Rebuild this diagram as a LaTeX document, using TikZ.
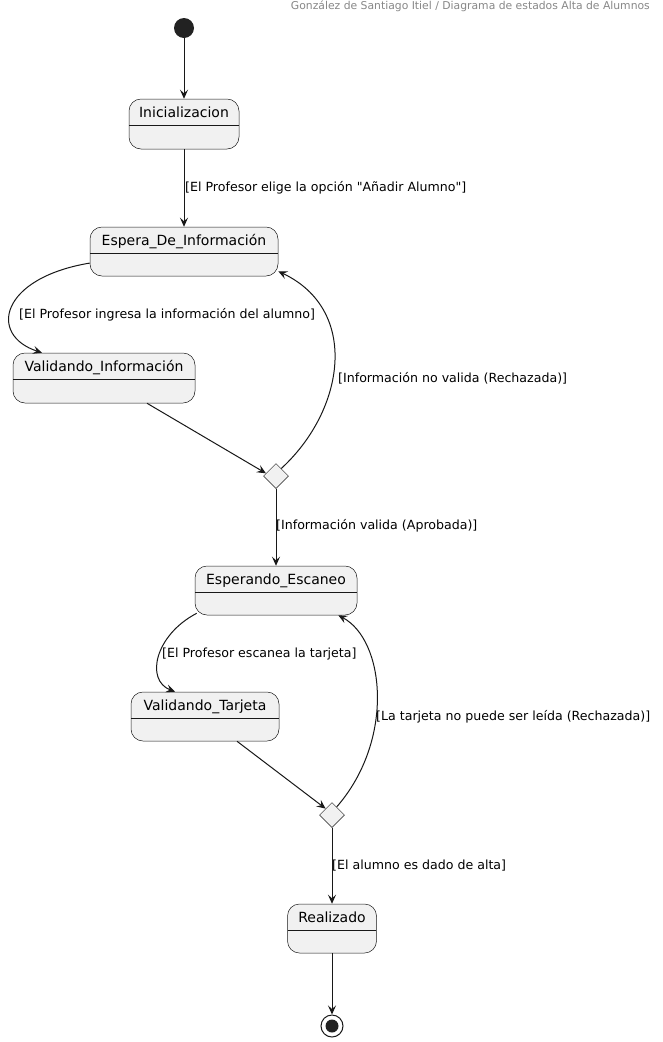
\documentclass[tikz,border=0pt]{standalone}
\usepackage{fontspec}
\setmainfont{DejaVu Sans}[Ligatures=TeXOff]
\usetikzlibrary{arrows.meta,shapes.geometric}
\definecolor{ln}{HTML}{181818}
\definecolor{bg}{HTML}{F1F1F1}
\definecolor{hdr}{HTML}{888888}
\definecolor{dot}{HTML}{222222}

\begin{document}
\begin{tikzpicture}[x=1pt,y=-1pt,
  state/.style={draw=ln, line width=0.5pt, fill=bg, rounded corners=12pt,
    minimum width=#1, minimum height=49pt, inner sep=0pt,
    path picture={\draw[ln, line width=0.5pt]
      ([yshift=-26pt]path picture bounding box.north west) --
      ([yshift=-26pt]path picture bounding box.north east);}},
  sname/.style={anchor=base, inner sep=0pt, yshift=-19pt,
    font=\fontsize{14pt}{16pt}\selectfont, text=black},
  choice/.style={diamond, draw=ln, line width=0.5pt, fill=bg,
    minimum width=25pt, minimum height=25pt, inner sep=0pt},
  tr/.style={draw=ln, line width=1pt,
    -{Stealth[length=9pt,width=8pt,inset=3.5pt]}},
  lbl/.style={anchor=west, inner sep=0pt, font=\fontsize{12.6pt}{15pt}\selectfont},
]
\useasboundingbox (0,0) rectangle (662,1042);
\fill[white] (0,0) rectangle (662,1042);

% header
\node[anchor=base east, text=hdr, inner sep=0pt, font=\fontsize{10.8pt}{12pt}\selectfont]
  (title) at (650,9.5) {González de Santiago Itiel / Diagrama de estados Alta de Alumnos};

% initial and final pseudo-states
\node[circle, fill=dot, minimum size=20pt, inner sep=0pt] (init) at (184,28) {};
\node[circle, draw=ln, line width=1pt, fill=white, minimum size=22pt, inner sep=0pt] (final) at (332,1026) {};
\node[circle, fill=dot, minimum size=13pt, inner sep=0pt] (finaldot) at (final.center) {};

% states
\node[state=110pt, minimum height=50pt, label={[sname]north:Inicializacion}] (ini) at (184,124) {};
\node[state=188pt, label={[sname]north:Espera\_De\_Información}] (esp) at (184,251.5) {};
\node[state=182pt, minimum height=50pt, label={[sname]north:Validando\_Información}] (vali) at (104,378) {};
\node[state=162pt, label={[sname]north:Esperando\_Escaneo}] (escan) at (276,590.5) {};
\node[state=148pt, label={[sname]north:Validando\_Tarjeta}] (vtar) at (205,716.5) {};
\node[state=89pt, label={[sname]north:Realizado}] (real) at (332,928.5) {};

% choice points
\node[choice] (d1) at (276,476) {};
\node[choice] (d2) at (332,815) {};

% transitions
\draw[tr] (init) -- (ini.north);
\draw[tr] (ini.south) -- (esp.north);
\draw[tr] (esp.187) .. controls (0,278) and (-12,335) .. ([xshift=-62pt]vali.north);
\draw[tr] ([xshift=43pt]vali.south) -- (d1.165);
\draw[tr] (d1.55) .. controls (345,410) and (360,310) .. ([yshift=5pt]esp.south east);
\draw[tr] (d1.south) -- (escan.north);
\draw[tr] ([xshift=2pt,yshift=2pt]escan.south west) .. controls (155,635) and (145,680) .. ([xshift=-30pt]vtar.north);
\draw[tr] ([xshift=32pt]vtar.south) -- (d2.135);
\draw[tr] (d2.60) .. controls (395,740) and (385,640) .. ([xshift=-19pt]escan.south east);
\draw[tr] (d2.south) -- (real.north);
\draw[tr] (real.south) -- (final.north);

% transition guards
\node[lbl] (g1) at (185,188) {[El Profesor elige la opción "Añadir Alumno"]};
\node[lbl] (g2) at (19,315) {[El Profesor ingresa la información del alumno]};
\node[lbl] (g3) at (338,378) {[Información no valida (Rechazada)]};
\node[lbl] (g4) at (276,526) {[Información valida (Aprobada)]};
\node[lbl] (g5) at (162,654) {[El Profesor escanea la tarjeta]};
\node[lbl] (g6) at (376,717) {[La tarjeta no puede ser leída (Rechazada)]};
\node[lbl] (g7) at (332,866) {[El alumno es dado de alta]};
\end{tikzpicture}
\end{document}
